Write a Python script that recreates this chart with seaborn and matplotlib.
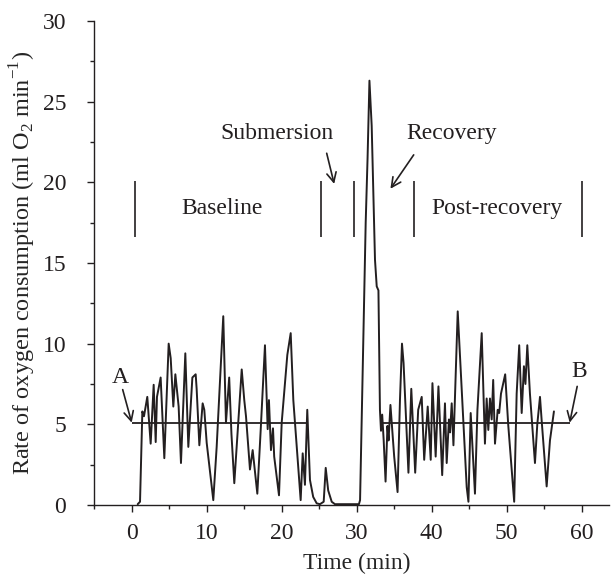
"""Oxygen consumption trace across baseline, submersion and recovery."""

import matplotlib

matplotlib.use("Agg")
import matplotlib.pyplot as plt  # noqa: E402
import pandas as pd  # noqa: E402
import seaborn as sns  # noqa: E402
from matplotlib.ticker import MultipleLocator  # noqa: E402

# (time in min, ml O2 per min)
TIME_MIN = [
    0.80, 1.11, 1.42, 1.64, 2.08, 2.53, 2.93, 3.20, 3.37, 3.86,
    4.35, 4.93, 5.20, 5.55, 5.82, 6.26, 6.57, 7.15, 7.55, 8.09,
    8.53, 8.66, 9.02, 9.46, 9.68, 10.00, 10.88, 11.33, 12.21, 12.57,
    13.00, 13.30, 13.68, 14.00, 14.67, 15.01, 15.24, 15.77, 16.13, 16.75,
    17.20, 17.77, 18.13, 18.30, 18.57, 18.84, 19.00, 19.64, 20.00, 20.44,
    20.75, 21.20, 21.55, 22.53, 22.80, 23.10, 23.41, 23.77, 24.20, 24.67,
    25.10, 25.60, 25.87, 26.20, 26.67, 27.10, 30.30, 30.45, 31.20, 31.45,
    31.70, 32.00, 32.44, 32.67, 32.90, 33.10, 33.24, 33.40, 33.60, 33.85,
    34.10, 34.25, 34.50, 35.00, 35.45, 35.77, 36.04, 36.25, 36.90, 37.28,
    37.80, 38.20, 38.67, 39.00, 39.47, 39.87, 40.10, 40.53, 40.90, 41.40,
    41.77, 42.00, 42.30, 42.45, 42.67, 42.90, 43.47, 44.67, 44.90, 45.20,
    45.77, 46.10, 46.67, 47.10, 47.33, 47.55, 47.77, 48.00, 48.20, 48.44,
    48.80, 49.00, 49.24, 49.80, 50.20, 51.00, 51.33, 51.67, 52.00, 52.30,
    52.50, 52.75, 53.10, 53.77, 54.08, 54.44, 54.67, 55.33, 55.77, 56.30,
]
VO2 = [
    0.05, 0.20, 5.80, 5.50, 6.70, 3.80, 7.45, 3.90, 6.70, 7.90,
    2.90, 10.00, 9.10, 6.10, 8.10, 6.10, 2.60, 9.40, 3.60, 7.90,
    8.10, 7.20, 3.70, 6.30, 5.90, 3.85, 0.30, 3.60, 11.70, 5.10,
    7.90, 4.40, 1.35, 3.60, 8.40, 6.50, 5.50, 2.20, 3.40, 0.70,
    4.65, 9.90, 4.70, 6.50, 3.40, 4.75, 3.00, 0.60, 5.10, 7.55,
    9.30, 10.65, 6.50, 0.30, 3.20, 1.25, 5.90, 1.55, 0.50, 0.10,
    0.05, 0.20, 2.30, 0.90, 0.20, 0.05, 0.05, 0.30, 17.50, 21.50,
    26.30, 23.50, 15.20, 13.55, 13.30, 5.90, 4.60, 5.60, 4.00, 1.45,
    4.90, 4.00, 6.20, 3.00, 0.80, 6.50, 10.00, 8.80, 2.00, 7.20,
    2.00, 5.90, 6.70, 2.80, 6.10, 2.80, 7.55, 3.00, 7.35, 1.85,
    6.30, 2.60, 5.30, 4.50, 6.30, 3.70, 12.00, 1.10, 0.20, 5.70,
    0.70, 5.90, 10.65, 3.80, 6.60, 4.65, 6.60, 5.30, 7.75, 3.80,
    5.90, 5.70, 6.90, 8.10, 5.00, 0.20, 6.90, 9.90, 5.70, 8.60,
    7.50, 9.90, 6.90, 2.60, 5.00, 6.70, 5.20, 1.15, 4.00, 5.80,
]

# mean resting level, drawn over the baseline and post-recovery windows
MEAN_LEVEL = 5.1
MEAN_SPANS = [(0.0, 23.5), (33.2, 58.4)]

# phase boundaries (min) shown as short vertical bars
PHASE_BOUNDS = [0.5, 25.3, 29.7, 37.6, 60.0]
PHASE_LABELS = ["Baseline", "Post-recovery"]
PHASE_LABEL_X = [12.0, 48.7]

INK = "#231f20"
FONT = ["Liberation Serif", "DejaVu Serif"]
FS = 17


def main() -> None:
    sns.set_style("ticks")
    plt.rcParams["font.family"] = FONT
    plt.rcParams["mathtext.fontset"] = "custom"
    plt.rcParams["mathtext.rm"] = "Liberation Serif"
    plt.rcParams["text.color"] = INK
    plt.rcParams["axes.edgecolor"] = INK
    plt.rcParams["xtick.color"] = INK
    plt.rcParams["ytick.color"] = INK

    df = pd.DataFrame({"time": TIME_MIN, "vo2": VO2})

    fig = plt.figure(figsize=(6.11, 5.76), dpi=100)
    ax = fig.add_axes([0.1538, 0.1233, 0.8429, 0.8403])

    sns.lineplot(data=df, x="time", y="vo2", estimator=None, sort=False,
                 color=INK, lw=1.4, ax=ax)

    for start, end in MEAN_SPANS:
        ax.hlines(MEAN_LEVEL, start, end, color=INK, lw=1.3)

    ax.vlines(PHASE_BOUNDS, 16.6, 20.1, color=INK, lw=1.2)
    for label, x in zip(PHASE_LABELS, PHASE_LABEL_X):
        ax.text(x, 18.4, label, ha="center", va="center", fontsize=FS)

    arrow = dict(arrowstyle="->", lw=1.2, color=INK, shrinkA=0, shrinkB=0,
                 mutation_scale=17)
    ax.text(-1.47, 7.9, "A", ha="center", va="center", fontsize=FS)
    ax.annotate("", xy=(0.0, MEAN_LEVEL), xytext=(-1.2, 7.15), arrowprops=arrow)
    ax.text(59.7, 8.3, "B", ha="center", va="center", fontsize=FS)
    ax.annotate("", xy=(58.4, MEAN_LEVEL), xytext=(59.4, 7.35), arrowprops=arrow)
    ax.text(19.3, 23.0, "Submersion", ha="center", va="center", fontsize=FS)
    ax.annotate("", xy=(27.0, 19.9), xytext=(26.0, 21.8), arrowprops=arrow)
    ax.text(42.6, 23.0, "Recovery", ha="center", va="center", fontsize=FS)
    ax.annotate("", xy=(34.5, 19.6), xytext=(37.6, 21.7), arrowprops=arrow)

    ax.set_xlim(-5.03, 63.64)
    ax.set_ylim(0, 30)
    ax.xaxis.set_major_locator(MultipleLocator(10))
    ax.xaxis.set_minor_locator(MultipleLocator(5))
    ax.yaxis.set_major_locator(MultipleLocator(5))
    ax.yaxis.set_minor_locator(MultipleLocator(2.5))
    ax.tick_params(which="major", length=5, width=1, labelsize=FS)
    ax.tick_params(which="minor", length=3, width=1)
    ax.tick_params(axis="y", which="major", pad=15)
    ax.tick_params(axis="x", which="major", pad=8)
    sns.despine(ax=ax)
    for side in ("left", "bottom"):
        ax.spines[side].set_linewidth(1.0)

    ax.set_xlabel("Time (min)", fontsize=FS)
    ax.set_ylabel(r"Rate of oxygen consumption (ml O$_2$ min$^{-1}$)", fontsize=17.5)
    ax.xaxis.set_label_coords(0.511, -0.098)
    ax.yaxis.set_label_coords(-0.108, 0.5)

    fig.savefig("out.png", dpi=100)
    plt.close(fig)


if __name__ == "__main__":
    main()
